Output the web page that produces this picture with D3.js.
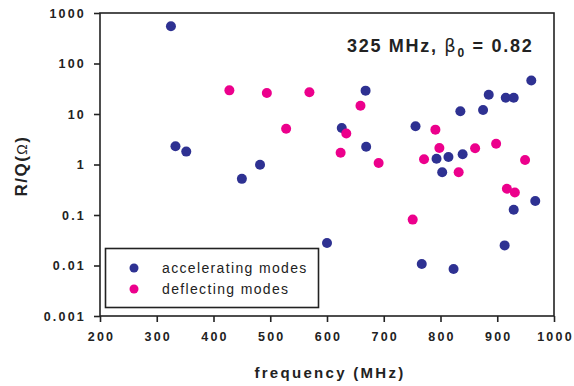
<!DOCTYPE html>
<html lang="en">
<head>
<meta charset="utf-8">
<title>R/Q vs frequency</title>
<script src="https://d3js.org/d3.v7.min.js"></script>
<style>
  body{margin:0;background:#fff;font-family:"Liberation Sans",Arial,sans-serif;}
</style>
</head>
<body>
<div id="chart"></div>
<script>
// accelerating modes
var accFreq = [325, 333, 352, 450, 482, 600, 626, 668, 669, 756, 767, 793, 803, 814, 823, 835, 839, 875, 885, 913, 915, 929, 929, 960, 967]
var accRQ   = [546, 2.3, 1.8, 0.52, 0.99, 0.028, 5.3, 29, 2.25, 5.7, 0.0107, 1.3, 0.70, 1.41, 0.0085, 11.3, 1.6, 12, 24, 0.025, 21, 21, 0.127, 46, 0.19]
// deflecting modes
var defFreq = [428, 494, 528, 569, 624, 634, 659, 691, 751, 771, 791, 798, 832, 861, 898, 917, 931, 949]
var defRQ   = [29.4, 26, 5.1, 26.9, 1.71, 4.1, 14.6, 1.07, 0.081, 1.27, 4.9, 2.12, 0.70, 2.09, 2.58, 0.33, 0.28, 1.23]

var xTicks = [200, 300, 400, 500, 600, 700, 800, 900, 1000]
var yTicks = [0.001, 0.01, 0.1, 1, 10, 100, 1000]
var yLabels = ["0.001", "0.01", "0.1", "1", "10", "100", "1000"]

var W = 574, H = 386
var mLeft = 100, mRight = 554, mTop = 13, mBottom = 316

var svg = d3.select("#chart").append("svg").attr("width", W).attr("height", H)

var x = d3.scaleLinear().domain([200, 1000]).range([mLeft, mRight])
var y = d3.scaleLog().domain([0.001, 1000]).range([mBottom, mTop])

// frame
svg.append("rect").attr("x", mLeft).attr("y", mTop).attr("width", mRight - mLeft).attr("height", mBottom - mTop)
  .attr("fill", "none").attr("stroke", "#222").attr("stroke-width", 1.6)

var xAxis = svg.append("g").attr("transform", "translate(0," + mBottom + ")")
  .call(d3.axisBottom(x).tickValues(xTicks).tickSize(6).tickPadding(6).tickFormat(d3.format("d")))
var yAxis = svg.append("g").attr("transform", "translate(" + mLeft + ",0)")
  .call(d3.axisLeft(y).tickValues(yTicks).tickSize(6).tickPadding(8).tickFormat(function(d, i){ return yLabels[i] }))
svg.selectAll(".domain").remove()
svg.selectAll(".tick line").attr("stroke", "#222").attr("stroke-width", 1.6)
svg.selectAll(".tick text").attr("font-family", "'Liberation Sans',Arial,sans-serif")
  .attr("font-weight", "bold").attr("font-size", 12.5).attr("fill", "#222").attr("letter-spacing", 2.2)
xAxis.selectAll("text").attr("dy", "1.05em").attr("dx", 1)

// points
var acc = accFreq.map(function(f, i){ return {f: f, v: accRQ[i]} })
var def = defFreq.map(function(f, i){ return {f: f, v: defRQ[i]} })
var blue = "#2e3192", pink = "#ec008c"

svg.append("g").selectAll("circle").data(acc).enter().append("circle")
  .attr("cx", function(d){ return x(d.f) }).attr("cy", function(d){ return y(d.v) })
  .attr("r", 5).attr("fill", blue)
svg.append("g").selectAll("circle").data(def).enter().append("circle")
  .attr("cx", function(d){ return x(d.f) }).attr("cy", function(d){ return y(d.v) })
  .attr("r", 5).attr("fill", pink)

// legend
var lg = svg.append("g")
lg.append("rect").attr("x", 105.5).attr("y", 248.5).attr("width", 213).attr("height", 59)
  .attr("fill", "#fff").attr("stroke", "#222").attr("stroke-width", 1.6)
var legItems = [["accelerating modes", blue], ["deflecting modes", pink]]
legItems.forEach(function(it, i){
  lg.append("circle").attr("cx", 134).attr("cy", 268 + i * 21).attr("r", 4.5).attr("fill", it[1])
  lg.append("text").attr("x", 162).attr("y", 273 + i * 21).text(it[0])
    .attr("font-size", 14).attr("letter-spacing", 1.35).attr("fill", "#222")
})

// title
var t = svg.append("text").attr("x", 347).attr("y", 52).attr("font-size", 18).attr("font-weight", "bold")
  .attr("fill", "#222").attr("letter-spacing", 1.7)
t.append("tspan").text("325 MHz, ")
t.append("tspan").attr("font-family", "'DejaVu Sans',sans-serif").attr("font-weight", "normal").text("β")
t.append("tspan").attr("font-size", 12).attr("dy", 5).text("0")
t.append("tspan").attr("dy", -5).text(" = 0.82")

// axis titles
svg.append("text").attr("x", 330).attr("y", 378).attr("text-anchor", "middle")
  .attr("font-size", 15).attr("font-weight", "bold").attr("fill", "#222").attr("letter-spacing", 2.3)
  .text("frequency (MHz)")
var yl = svg.append("text").attr("transform", "translate(27,166) rotate(-90)").attr("text-anchor", "middle")
  .attr("font-size", 17).attr("fill", "#222").attr("letter-spacing", 1.5)
yl.append("tspan").attr("font-weight", "bold").text("R/Q(")
yl.append("tspan").attr("font-size", 14).text("Ω")
yl.append("tspan").attr("font-weight", "bold").text(")")
</script>
</body>
</html>
